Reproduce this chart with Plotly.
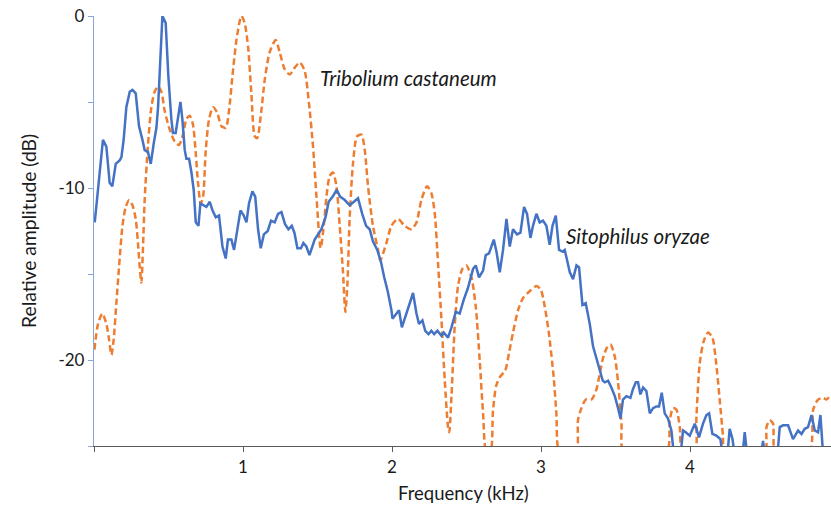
import plotly.graph_objects as go

# ---- data (frequency in kHz, relative amplitude in dB) ----
sito_khz = [0.005,0.060,0.083,0.105,0.123,0.146,0.172,0.184,0.199,0.217,0.240,0.258,0.280,0.302,0.325,0.340,0.362,0.381,0.401,0.419,
            0.430,0.446,0.459,0.481,0.499,0.519,0.530,0.548,0.564,0.580,0.593,0.609,0.620,0.638,0.654,0.669,0.683,0.701,0.714,0.732,
            0.754,0.777,0.795,0.817,0.839,0.862,0.884,0.899,0.922,0.940,0.966,0.983,1.005,1.023,1.040,1.063,1.082,1.101,1.119,1.140,
            1.166,1.188,1.213,1.235,1.258,1.282,1.305,1.327,1.345,1.365,1.389,1.405,1.425,1.446,1.481,1.503,1.526,1.554,1.575,1.602,
            1.629,1.651,1.683,1.716,1.744,1.772,1.800,1.826,1.850,1.872,1.901,1.926,1.948,1.971,1.996,2.003,2.030,2.047,2.066,2.097,
            2.119,2.141,2.164,2.181,2.204,2.223,2.245,2.264,2.283,2.305,2.332,2.347,2.376,2.399,2.428,2.454,2.481,2.510,2.544,2.562,
            2.584,2.611,2.629,2.651,2.683,2.701,2.723,2.745,2.768,2.790,2.812,2.839,2.862,2.886,2.906,2.929,2.946,2.969,2.991,3.013,
            3.036,3.058,3.077,3.099,3.121,3.144,3.159,3.175,3.193,3.215,3.238,3.255,3.278,3.300,3.327,3.349,3.376,3.394,3.414,3.428,
            3.450,3.472,3.495,3.517,3.533,3.550,3.573,3.600,3.617,3.636,3.651,3.667,3.685,3.707,3.730,3.752,3.774,3.792,3.810,3.830,
            3.852,3.875,3.897,3.931,3.953,3.971,3.998,4.032,4.060,4.087,4.110,4.128,4.150,4.177,4.204,4.226,4.246,4.266,4.285,4.307,
            4.347,4.367,4.389,4.468,4.490,4.508,4.582,4.602,4.624,4.658,4.691,4.725,4.748,4.770,4.792,4.815,4.837,4.859,4.875,4.897,
            4.946]
sito_db = [-12.0,-7.2,-7.6,-9.7,-9.9,-8.6,-8.4,-8.2,-7.2,-5.3,-4.4,-4.3,-4.5,-6.4,-7.2,-7.8,-7.9,-8.6,-7.4,-6.5,
           -5.3,-2.5,0.0,-0.4,-3.5,-6.0,-6.8,-6.8,-6.0,-5.0,-6.0,-7.8,-8.3,-8.3,-9.1,-10.1,-12.0,-12.2,-10.9,-11.0,
           -11.1,-10.8,-11.3,-11.7,-11.6,-13.4,-14.1,-13.0,-13.0,-13.6,-12.2,-11.3,-11.6,-12.0,-10.9,-10.2,-10.5,-12.4,-13.5,-12.7,
           -12.5,-11.9,-12.0,-11.5,-11.4,-12.1,-12.4,-12.2,-12.6,-13.5,-13.5,-13.2,-13.4,-13.9,-13.0,-12.7,-12.4,-11.7,-10.8,-10.5,
           -10.1,-10.5,-10.7,-11.0,-10.8,-10.6,-11.5,-12.2,-12.4,-13.1,-13.6,-14.3,-15.2,-16.0,-17.1,-17.6,-17.3,-17.1,-18.1,-17.2,
           -16.7,-16.1,-17.3,-17.9,-17.7,-18.3,-18.5,-18.3,-18.5,-18.3,-18.6,-18.4,-18.7,-18.1,-17.2,-17.3,-16.5,-15.8,-14.7,-14.5,
           -15.2,-14.8,-13.9,-13.8,-13.0,-13.7,-14.9,-13.6,-11.8,-13.4,-12.4,-12.7,-12.6,-11.1,-11.5,-12.9,-12.2,-11.5,-12.0,-11.9,
           -12.2,-13.3,-12.2,-11.6,-13.6,-13.7,-13.6,-14.2,-14.9,-15.3,-14.5,-14.6,-16.8,-16.7,-17.9,-19.2,-20.0,-20.6,-21.2,-21.3,
           -21.2,-21.6,-22.1,-22.8,-23.4,-22.3,-22.1,-22.2,-21.7,-21.3,-21.3,-22.0,-21.6,-21.8,-23.1,-22.8,-22.7,-22.7,-21.9,-23.1,
           -23.4,-24.1,-26.0,-26.0,-24.1,-24.2,-24.4,-23.7,-24.5,-23.7,-23.2,-23.1,-24.3,-24.4,-24.6,-26.0,-26.0,-24.0,-24.6,-26.0,
           -26.0,-24.2,-26.0,-26.0,-24.7,-26.0,-26.0,-23.9,-23.8,-23.8,-24.6,-24.1,-24.3,-24.0,-23.9,-23.2,-24.1,-24.2,-23.2,-26.0,
           -26.0]

trib_khz = [0.003,0.027,0.056,0.083,0.101,0.117,0.132,0.150,0.168,0.191,0.213,0.236,0.258,0.280,0.295,0.307,0.318,0.329,0.340,0.362,
            0.385,0.407,0.430,0.452,0.474,0.508,0.542,0.570,0.597,0.620,0.642,0.664,0.683,0.698,0.716,0.732,0.750,0.772,0.799,0.826,
            0.855,0.884,0.906,0.929,0.956,0.989,1.011,1.034,1.056,1.079,1.095,1.123,1.146,1.179,1.219,1.246,1.280,1.313,1.347,1.381,
            1.414,1.443,1.470,1.493,1.521,1.542,1.560,1.582,1.604,1.627,1.649,1.671,1.687,1.701,1.716,1.738,1.765,1.795,1.817,1.839,
            1.872,1.906,1.921,1.962,1.996,2.040,2.085,2.130,2.164,2.197,2.235,2.264,2.287,2.309,2.332,2.354,2.376,2.384,2.399,2.421,
            2.443,2.472,2.499,2.533,2.562,2.589,2.611,2.634,2.660,2.678,2.699,2.723,2.760,2.785,2.812,2.846,2.879,2.924,2.969,2.998,
            3.025,3.052,3.085,3.103,3.126,3.235,3.248,3.271,3.300,3.338,3.372,3.394,3.416,3.441,3.466,3.495,3.517,3.540,3.555,3.842,
            3.864,3.886,3.909,3.931,3.949,4.032,4.043,4.065,4.092,4.121,4.150,4.173,4.199,4.221,4.233,4.501,4.513,4.535,4.557,4.575,
            4.799,4.826,4.859,4.893,4.915,4.938]
trib_db = [-19.4,-17.9,-17.3,-17.9,-18.8,-19.7,-18.8,-16.7,-14.6,-12.2,-11.1,-10.7,-11.0,-11.8,-13.2,-14.6,-15.5,-13.4,-10.7,-7.5,
           -5.3,-4.4,-4.1,-4.4,-5.5,-6.6,-7.3,-7.5,-6.9,-6.0,-5.8,-6.3,-8.0,-9.7,-10.9,-10.5,-7.8,-6.0,-5.3,-5.6,
           -6.4,-6.5,-5.5,-3.5,-1.4,0.0,-0.4,-1.8,-4.5,-7.0,-7.1,-5.5,-3.7,-2.1,-1.4,-2.1,-3.1,-3.4,-3.0,-2.7,
           -3.2,-5.1,-7.6,-10.5,-13.5,-12.2,-10.5,-9.3,-9.1,-9.9,-12.2,-14.9,-17.2,-15.5,-11.7,-8.6,-7.0,-6.9,-7.8,-9.9,
           -12.2,-13.6,-14.2,-13.2,-12.2,-11.8,-12.2,-12.4,-12.0,-10.7,-9.9,-10.3,-11.5,-14.4,-17.7,-21.2,-23.9,-24.2,-22.1,-18.0,
           -15.7,-14.7,-14.5,-15.2,-16.9,-20.1,-23.1,-25.4,-25.4,-22.9,-21.5,-21.0,-20.6,-19.6,-18.4,-17.1,-16.4,-16.0,-15.7,-15.9,
           -16.9,-18.4,-21.0,-23.1,-25.4,-25.4,-23.5,-22.8,-22.3,-22.3,-21.7,-20.8,-19.9,-19.3,-19.1,-19.8,-21.3,-23.7,-25.4,-25.4,
           -23.5,-22.8,-22.9,-23.9,-25.4,-25.4,-23.3,-20.2,-18.9,-18.4,-18.7,-20.0,-22.3,-24.4,-25.4,-25.4,-23.9,-23.5,-23.7,-25.4,
           -25.4,-22.9,-22.3,-22.2,-22.3,-22.1]

assert len(sito_khz) == len(sito_db), (len(sito_khz), len(sito_db))
assert len(trib_khz) == len(trib_db), (len(trib_khz), len(trib_db))

y_tickvals = [-25, -20, -15, -10, -5, 0]
y_ticktext = ["", "-20", "", "-10", "", "0"]
x_tickvals = [0, 1, 2, 3, 4]
x_ticktext = ["", "1", "2", "3", "4"]

FONT = "Lato"
TXT = "#1a1a1a"

fig = go.Figure()
fig.add_trace(go.Scatter(x=trib_khz, y=trib_db, mode="lines",
                         line=dict(color="#ED7D31", width=2.5, dash="6.5px,3.5px", shape="spline", smoothing=0.7),
                         hoverinfo="skip", showlegend=False))
fig.add_trace(go.Scatter(x=sito_khz, y=sito_db, mode="lines",
                         line=dict(color="#4472C4", width=2.5),
                         hoverinfo="skip", showlegend=False))

fig.update_layout(
    width=831, height=508,
    margin=dict(l=94, r=0, t=16, b=62),
    paper_bgcolor="white", plot_bgcolor="white",
    font=dict(family=FONT, size=17, color=TXT),
    xaxis=dict(range=[0, 4.946], tickvals=x_tickvals, ticktext=x_ticktext,
               showgrid=False, zeroline=False, showline=True, linecolor="#5a5a5a", linewidth=1.3,
               ticks="outside", ticklen=5, tickcolor="#5a5a5a", tickfont=dict(size=17)),
    yaxis=dict(range=[-25, 0], tickvals=y_tickvals, ticktext=y_ticktext,
               showgrid=False, zeroline=False, showline=True, linecolor="#8aa4d6", linewidth=1.3,
               ticks="outside", ticklen=5, tickcolor="#8aa4d6", tickfont=dict(size=17)),
    annotations=[
        dict(text="Frequency (kHz)", xref="paper", yref="paper", x=0.5007, y=0, yshift=-47,
             xanchor="center", yanchor="middle", showarrow=False, font=dict(size=18.5)),
        dict(text="Relative amplitude (dB)", xref="paper", yref="paper", x=0, xshift=-66, y=0.5,
             xanchor="center", yanchor="middle", textangle=-90, showarrow=False, font=dict(size=19.3)),
        dict(text="<i>Tribolium castaneum</i>", xref="x", yref="y", x=1.50, y=-3.6,
             xanchor="left", yanchor="middle", showarrow=False, font=dict(size=20.5)),
        dict(text="<i>Sitophilus oryzae</i>", xref="x", yref="y", x=3.155, y=-12.81,
             xanchor="left", yanchor="middle", showarrow=False, font=dict(size=20.5)),
    ],
)

fig.write_html("out.html", config={"displayModeBar": False})
